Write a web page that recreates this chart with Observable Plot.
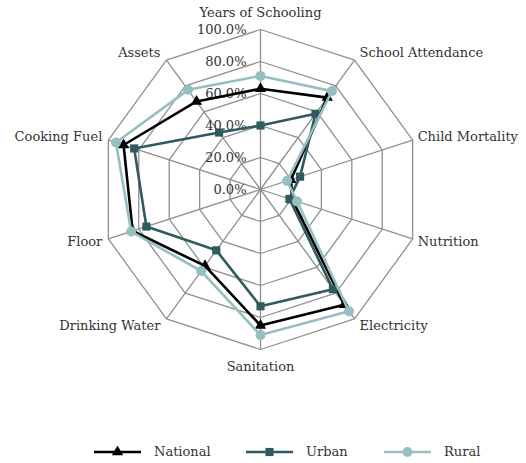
<!DOCTYPE html>
<html>
<head>
<meta charset="utf-8">
<script src="https://cdn.jsdelivr.net/npm/d3@7"></script>
<script src="https://cdn.jsdelivr.net/npm/@observablehq/plot@0.6"></script>
<style>
  html, body { margin: 0; padding: 0; background: #fff; }
  body { width: 526px; height: 463px; overflow: hidden; font-family: "DejaVu Serif", serif; }
  #legend { position: relative; height: 38px; }
  .item { position: absolute; top: 19px; display: flex; align-items: center; font-size: 13px; color: #333; }
  .item svg { margin-right: 13px; }
  svg text { font-family: "DejaVu Serif", serif; }
</style>
</head>
<body>
<div id="chart"></div>
<div id="legend"></div>
<script>
const axes = ["Years of Schooling","School Attendance","Child Mortality","Nutrition","Electricity","Sanitation","Drinking Water","Floor","Cooking Fuel","Assets"];
const national = [0.63, 0.71, 0.20, 0.21, 0.89, 0.85, 0.59, 0.84, 0.90, 0.68];
const urban    = [0.40, 0.585, 0.26, 0.19, 0.77, 0.73, 0.47, 0.75, 0.83, 0.44];
const rural    = [0.71, 0.76, 0.175, 0.24, 0.94, 0.91, 0.63, 0.85, 0.95, 0.77];
const tickValues = [0, 0.2, 0.4, 0.6, 0.8, 1.0];
const tickLabels = ["0.0%","20.0%","40.0%","60.0%","80.0%","100.0%"];
const seriesNames = ["National","Urban","Rural"];
const seriesColors = ["#000000","#2f5b5e","#96bfc2"];
const seriesSymbols = ["triangle","square","circle"];
const seriesR = [4.2, 4.6, 5];

const n = axes.length;
const ang = i => 2 * Math.PI * i / n;
const px = (i, r) => Math.sin(ang(i)) * r;
const py = (i, r) => Math.cos(ang(i)) * r;

const allSeries = [national, urban, rural];
const seriesData = allSeries.map((vals, s) => vals.map((v, i) => ({series: seriesNames[s], axis: axes[i], i, v})));

const rings = [];
tickValues.filter(t => t > 0).forEach(t => axes.forEach((a, i) => rings.push({t, i})));
const spokes = axes.map((a, i) => ({i}));

const R = 160, CX = 260, CY = 189;
const labelData = axes.map((a, i) => {
  const s = Math.sin(ang(i)), c = Math.cos(ang(i));
  let anchor = "middle", ox = 0, oy;
  if (s > 0.1) { anchor = "start"; ox = 5; oy = -c * 9; }
  else if (s < -0.1) { anchor = "end"; ox = -6; oy = -c * 9; }
  else { oy = -c * 17; }
  return {label: a, anchor, x: s + ox / R, y: c - oy / R};
});

const marks = [
  Plot.line(rings, {x: d => px(d.i, d.t), y: d => py(d.i, d.t), z: "t", curve: "linear-closed", stroke: "#8f8f8f", strokeWidth: 1.3}),
  Plot.link(spokes, {x1: 0, y1: 0, x2: d => px(d.i, 1), y2: d => py(d.i, 1), stroke: "#8f8f8f", strokeWidth: 1.3}),
  Plot.text(tickValues, {x: 0, y: d => d, text: (d, k) => tickLabels[k], textAnchor: "end", dx: -14, fontSize: 13, fill: "#333"})
];
seriesData.forEach((data, s) => {
  marks.push(Plot.line(data, {x: d => px(d.i, d.v), y: d => py(d.i, d.v), curve: "linear-closed", stroke: seriesColors[s], strokeWidth: 2.6}));
  marks.push(Plot.dot(data, {x: d => px(d.i, d.v), y: d => py(d.i, d.v), symbol: seriesSymbols[s], r: seriesR[s], fill: seriesColors[s], stroke: "none"}));
});
["start","middle","end"].forEach(anchor => {
  marks.push(Plot.text(labelData.filter(d => d.anchor === anchor), {x: "x", y: "y", text: "label", textAnchor: anchor, fontSize: 13, fill: "#333"}));
});

const chart = Plot.plot({
  width: 526,
  height: 425,
  margin: 0,
  style: {fontFamily: "'DejaVu Serif', serif", background: "#fff", overflow: "visible"},
  x: {type: "linear", domain: [-1, 1], range: [CX - R, CX + R], axis: null},
  y: {type: "linear", domain: [-1, 1], range: [CY + R, CY - R], axis: null},
  marks
});
document.getElementById("chart").appendChild(chart);

// legend
const legend = document.getElementById("legend");
const lefts = [94, 246, 384];
seriesNames.forEach((name, s) => {
  const item = document.createElement("div");
  item.className = "item";
  item.style.left = lefts[s] + "px";
  const sym = d3.symbol(s === 0 ? d3.symbolTriangle : s === 1 ? d3.symbolSquare : d3.symbolCircle, Math.PI * seriesR[s] * seriesR[s])();
  item.innerHTML = `<svg width="47" height="12"><line x1="0" x2="47" y1="6" y2="6" stroke="${seriesColors[s]}" stroke-width="2.6"/><path transform="translate(23.5,6)" d="${sym}" fill="${seriesColors[s]}"/></svg><span>${name}</span>`;
  legend.appendChild(item);
});
</script>
</body>
</html>
